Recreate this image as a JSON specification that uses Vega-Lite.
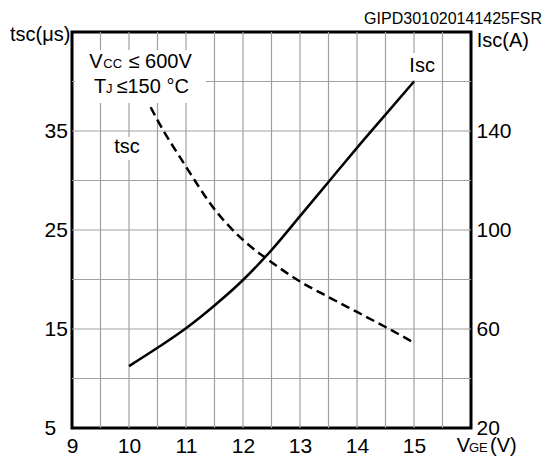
{
  "$schema": "https://vega.github.io/schema/vega-lite/v6.json",
  "width": 399,
  "height": 396,
  "autosize": {"type": "none"},
  "padding": {"left": 72, "top": 32, "right": 77, "bottom": 30},
  "config": {
    "view": {"stroke": "#000000", "strokeWidth": 3},
    "font": "Liberation Sans",
    "axis": {"domain": false, "ticks": false, "grid": false, "labelFont": "Liberation Sans", "labelFontSize": 21, "labelColor": "#000000"}
  },
  "datasets": {
    "isc": [
      {"vge": 10, "isc": 45.0}, {"vge": 10.5, "isc": 52.4}, {"vge": 11, "isc": 60.3}, {"vge": 11.5, "isc": 69.5},
      {"vge": 12, "isc": 79.8}, {"vge": 12.5, "isc": 91.9}, {"vge": 13, "isc": 105.6}, {"vge": 13.5, "isc": 119.4},
      {"vge": 14, "isc": 133.2}, {"vge": 14.5, "isc": 146.6}, {"vge": 15, "isc": 160.0}
    ],
    "tsc": [
      {"vge": 10.38, "tsc": 37.4}, {"vge": 10.5, "tsc": 36.1}, {"vge": 11, "tsc": 31.4}, {"vge": 11.5, "tsc": 27.1},
      {"vge": 12, "tsc": 24.0}, {"vge": 12.5, "tsc": 21.75}, {"vge": 13, "tsc": 19.8}, {"vge": 13.5, "tsc": 18.23},
      {"vge": 14, "tsc": 16.72}, {"vge": 14.5, "tsc": 15.2}, {"vge": 15, "tsc": 13.62}
    ],
    "gridx": [
      {"v": 9.5}, {"v": 10}, {"v": 10.5}, {"v": 11}, {"v": 11.5}, {"v": 12}, {"v": 12.5},
      {"v": 13}, {"v": 13.5}, {"v": 14}, {"v": 14.5}, {"v": 15}, {"v": 15.5}
    ],
    "gridy": [
      {"v": 10}, {"v": 15}, {"v": 20}, {"v": 25}, {"v": 30}, {"v": 35}, {"v": 40}
    ],
    "mask": [
      {"x1": 9.05, "x2": 11.35, "y1": 43.18, "y2": 37.83},
      {"x1": 9.70, "x2": 10.25, "y1": 34.39, "y2": 32.07},
      {"x1": 14.84, "x2": 15.46, "y1": 42.88, "y2": 40.15}
    ],
    "big": [
      {"px": 9.304, "py": 41.33, "t": "V"},
      {"px": 9.991, "py": 41.33, "t": "≤ 600V"},
      {"px": 9.386, "py": 38.81, "t": "T"},
      {"px": 9.781, "py": 38.81, "t": "≤150 °C"},
      {"px": 9.742, "py": 32.75, "t": "tsc"},
      {"px": 14.918, "py": 40.93, "t": "Isc"},
      {"px": 7.912, "py": 44.09, "t": "tsc(μs)"},
      {"px": 16.1, "py": 43.52, "t": "Isc(A)"},
      {"px": 15.749, "py": 2.58, "t": "V"},
      {"px": 16.333, "py": 2.58, "t": "(V)"}
    ],
    "small": [
      {"px": 9.549, "py": 41.33, "t": "CC"},
      {"px": 9.596, "py": 38.81, "t": "J"},
      {"px": 15.965, "py": 2.58, "t": "GE"}
    ],
    "header": [
      {"px": 17.246, "py": 45.82, "t": "GIPD301020141425FSR"}
    ]
  },
  "layer": [
    {
      "layer": [
        {
          "data": {"name": "gridx"},
          "mark": {"type": "rule", "color": "#a0a0a0", "strokeWidth": 1.2},
          "encoding": {
            "x": {"field": "v", "type": "quantitative", "title": null,
              "scale": {"domain": [9, 16], "nice": false, "zero": false},
              "axis": {"values": [9, 10, 11, 12, 13, 14, 15],
                "labelExpr": "format(datum.value, 'd')",
                "labelFlush": false, "labelOverlap": false, "labelPadding": 7, "grid": false}}
          }
        },
        {
          "data": {"name": "gridy"},
          "mark": {"type": "rule", "color": "#a0a0a0", "strokeWidth": 1.2},
          "encoding": {
            "y": {"field": "v", "type": "quantitative", "title": null,
              "scale": {"domain": [5, 45], "nice": false, "zero": false},
              "axis": {"orient": "left", "values": [5, 15, 25, 35],
                "labelAlign": "left", "labelOverlap": false, "labelPadding": 28, "grid": false}}
          }
        },
        {
          "data": {"name": "mask"},
          "mark": {"type": "rect", "fill": "#ffffff", "strokeWidth": 0},
          "encoding": {
            "x": {"field": "x1", "type": "quantitative", "title": null},
            "x2": {"field": "x2"},
            "y": {"field": "y1", "type": "quantitative", "title": null},
            "y2": {"field": "y2"}
          }
        },
        {
          "data": {"name": "tsc"},
          "mark": {"type": "line", "interpolate": "monotone", "color": "#000000", "strokeWidth": 2.5, "strokeDash": [9, 5]},
          "encoding": {
            "x": {"field": "vge", "type": "quantitative", "title": null},
            "y": {"field": "tsc", "type": "quantitative", "title": null}
          }
        },
        {
          "data": {"name": "big"},
          "mark": {"type": "text", "align": "left", "baseline": "alphabetic", "fontSize": 20, "color": "#000000", "font": "Liberation Sans"},
          "encoding": {
            "x": {"field": "px", "type": "quantitative", "title": null},
            "y": {"field": "py", "type": "quantitative", "title": null},
            "text": {"field": "t"}
          }
        },
        {
          "data": {"name": "small"},
          "mark": {"type": "text", "align": "left", "baseline": "alphabetic", "fontSize": 13, "color": "#000000", "font": "Liberation Sans"},
          "encoding": {
            "x": {"field": "px", "type": "quantitative", "title": null},
            "y": {"field": "py", "type": "quantitative", "title": null},
            "text": {"field": "t"}
          }
        },
        {
          "data": {"name": "header"},
          "mark": {"type": "text", "align": "right", "baseline": "alphabetic", "fontSize": 16, "color": "#000000", "font": "Liberation Sans"},
          "encoding": {
            "x": {"field": "px", "type": "quantitative", "title": null},
            "y": {"field": "py", "type": "quantitative", "title": null},
            "text": {"field": "t"}
          }
        }
      ]
    },
    {
      "data": {"name": "isc"},
      "mark": {"type": "line", "interpolate": "monotone", "color": "#000000", "strokeWidth": 2.5},
      "encoding": {
        "x": {"field": "vge", "type": "quantitative", "title": null},
        "y": {"field": "isc", "type": "quantitative", "title": null,
          "scale": {"domain": [20, 180], "nice": false, "zero": false},
          "axis": {"orient": "right", "values": [20, 60, 100, 140], "labelOverlap": false, "labelPadding": 5, "grid": false}}
      }
    }
  ],
  "resolve": {"scale": {"y": "independent"}}
}
